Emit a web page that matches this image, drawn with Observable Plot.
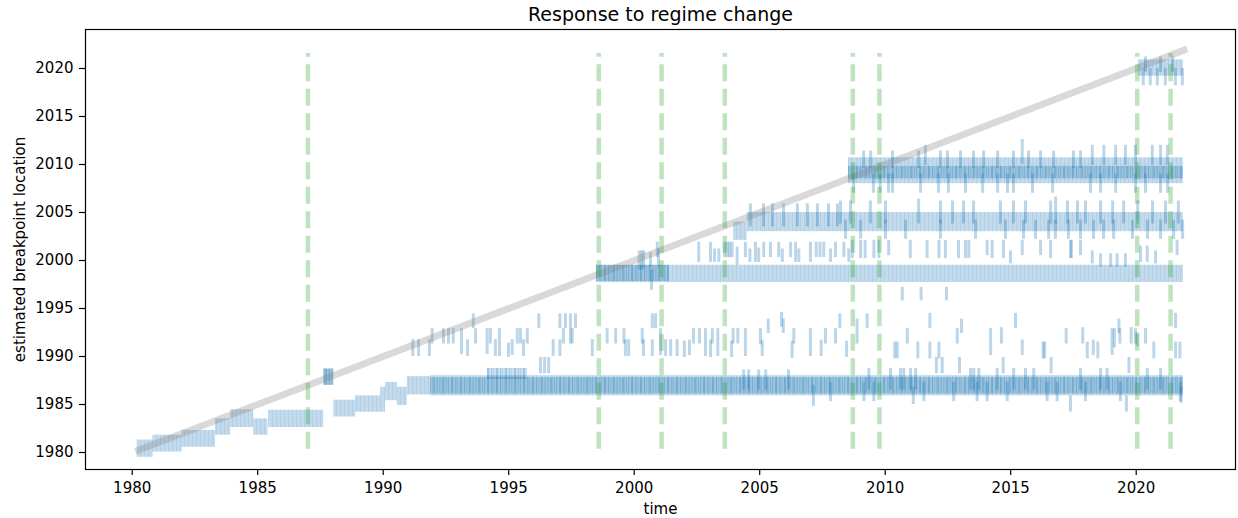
<!DOCTYPE html>
<html>
<head>
<meta charset="utf-8">
<script src="https://cdn.jsdelivr.net/npm/d3@7"></script>
<script src="https://cdn.jsdelivr.net/npm/@observablehq/plot@0.6"></script>
<style>
  html, body { margin: 0; padding: 0; background: #fff; }
</style>
</head>
<body>
<div id="chart"></div>
<script>
// ---------------- DATA ----------------
const chartTitle = "Response to regime change";
const xLabel = "time";
const yLabel = "estimated breakpoint location";
const xTicks = [1980, 1985, 1990, 1995, 2000, 2005, 2010, 2015, 2020];
const yTicks = [1980, 1985, 1990, 1995, 2000, 2005, 2010, 2015, 2020];

// true regime-change dates (green dashed lines)
const regimeChanges = [1987.0, 1998.59, 2001.09, 2003.61, 2008.71, 2009.77, 2020.04, 2021.37];
const regimeSpan = [1980.35, 2021.55];
// time span of the experiment (diagonal: estimate == time)
const timeRange = [1980.25, 2021.9];

// continuous runs of estimates: [timeStart, timeEnd, low, high]
const bandRuns = [
  [1980.2, 1980.83, 1979.5, 1981.3],
  [1980.83, 1981.99, 1980.05, 1981.8],
  [1981.99, 1983.32, 1980.55, 1982.3],
  [1983.32, 1983.92, 1981.8, 1983.5],
  [1983.92, 1984.84, 1982.6, 1984.45],
  [1984.84, 1985.41, 1981.8, 1983.5],
  [1985.44, 1987.63, 1982.6, 1984.4],
  [1987.63, 1988.03, 1987.0, 1988.7],
  [1988.03, 1988.9, 1983.7, 1985.45],
  [1988.9, 1989.9, 1984.2, 1985.9],
  [1989.9, 1990.09, 1984.2, 1986.8],
  [1990.09, 1990.56, 1985.4, 1987.3],
  [1990.56, 1990.96, 1984.9, 1986.8],
  [1990.96, 1991.88, 1986.0, 1987.9],
  [1991.88, 2021.88, 1985.9, 1988.0],
  [1998.5, 2021.88, 1997.7, 1999.5],
  [2003.96, 2004.5, 2002.1, 2004.0],
  [2004.5, 2021.88, 2003.0, 2005.0],
  [2008.54, 2021.88, 2008.0, 2010.7],
  [2020.09, 2021.88, 2019.2, 2020.9]
];

// heavily overlapping parts of the runs: [timeStart, timeEnd, low, high]
const coreRuns = [
  [1987.63, 1988.03, 1987.0, 1988.7],
  [1991.88, 2021.88, 1986.1, 1987.8],
  [1994.15, 1995.75, 1987.6, 1988.75],
  [1998.5, 2001.4, 1997.8, 1999.5],
  [2008.54, 2021.88, 2008.5, 2009.8]
];

// isolated estimates between 1988 and 1995: [time, low, high]
const lowZoneTicks = [
  [1991.18,1990.0,1991.75],[1991.41,1990.0,1991.75],[1991.84,1990.0,1991.75],[1991.95,1991.3,1992.9],
  [1992.40,1991.3,1992.9],[1992.60,1991.3,1992.9],[1992.79,1991.3,1992.9],[1993.12,1990.2,1992.9],
  [1993.36,1990.0,1991.75],[1993.59,1992.9,1994.45],[1993.68,1991.3,1992.9],[1994.14,1990.2,1992.9],
  [1994.27,1991.3,1992.9],[1994.47,1990.0,1991.75],[1994.63,1990.0,1992.9],[1994.99,1989.9,1991.4],
  [1995.14,1990.1,1991.75],[1995.34,1991.3,1992.9],[1995.47,1991.3,1992.9],[1995.59,1990.0,1991.75],
  [1995.74,1991.3,1992.9],[1996.20,1992.9,1994.45],[1996.27,1988.2,1989.9],[1996.43,1988.2,1989.9],
  [1996.59,1988.2,1989.9],[1996.77,1990.0,1991.75],[1997.04,1992.9,1994.45],[1997.04,1990.0,1991.75],
  [1997.18,1991.3,1992.9],[1997.26,1992.9,1994.45],[1997.46,1991.3,1994.45],[1997.53,1991.3,1992.9],
  [1997.66,1992.9,1994.45],[1998.33,1990.0,1991.75],[1998.92,1991.3,1992.9],[1999.26,1991.3,1992.9],
  [1999.59,1991.3,1992.9],[1999.65,1990.0,1991.75],[1999.78,1990.0,1991.75],[2000.32,1991.3,1992.9],
  [2000.37,1990.0,1991.75],[2000.72,1992.9,1994.45],[2000.85,1992.9,1994.45],[2000.72,1990.0,1991.75],
  [2001.05,1990.1,1992.9],[2001.25,1990.0,1991.75],[2001.45,1990.0,1991.75],[2001.71,1990.0,1991.75],
  [2002.00,1989.9,1991.6],[2002.20,1990.1,1991.7],[2002.36,1991.3,1992.9],[2002.60,1991.3,1992.9],
  [2002.84,1990.0,1992.9],[2003.04,1989.9,1991.7],[2003.11,1991.3,1992.9],[2003.33,1990.0,1992.9],
  [2003.88,1989.9,1991.6],[2003.94,1991.3,1992.9],[2004.13,1991.3,1992.9],[2004.43,1990.0,1992.9],
  [2005.03,1991.2,1992.9],[2005.10,1990.0,1991.7],[2005.34,1992.4,1993.9],[2005.87,1993.05,1994.6],
  [2005.94,1992.4,1993.9],[2006.29,1989.8,1991.6],[2006.36,1991.3,1992.9],[2007.02,1990.0,1992.9],
  [2007.45,1990.0,1991.7],[2007.62,1991.3,1992.9],[2008.02,1991.3,1992.9],[2008.19,1992.9,1994.45],
  [2008.46,1989.9,1991.6],[2008.88,1991.3,1993.9],[2009.28,1992.9,1994.45],[2010.38,1989.75,1991.5],
  [2010.48,1989.75,1991.5],[2010.88,1991.3,1992.9],[2011.30,1989.75,1991.5],[2011.78,1992.9,1994.5],
  [2011.78,1989.75,1991.5],[2012.04,1988.2,1989.9],[2012.14,1989.75,1991.5],[2012.27,1988.2,1989.9],
  [2012.87,1991.3,1992.9],[2012.96,1988.2,1989.9],[2013.04,1992.4,1993.9],[2014.20,1990.1,1992.9],
  [2014.63,1991.3,1993.0],[2014.70,1988.2,1989.9],[2015.19,1992.9,1994.5],[2015.46,1990.1,1991.7],
  [2016.29,1989.75,1991.5],[2016.35,1989.75,1991.5],[2016.61,1988.2,1989.9],[2017.21,1991.3,1992.9],
  [2017.87,1991.3,1993.0],[2018.05,1989.75,1991.5],[2018.29,1990.1,1991.7],[2018.47,1989.75,1991.5],
  [2019.04,1990.1,1992.9],[2019.13,1990.9,1992.9],[2019.31,1992.4,1993.9],[2019.35,1991.3,1992.9],
  [2019.71,1988.2,1989.9],[2019.80,1991.3,1993.0],[2019.97,1991.3,1992.9],[2020.04,1991.0,1992.5],
  [2020.37,1991.3,1992.9],[2020.70,1989.75,1991.5],[2021.57,1992.9,1994.5],[2021.57,1989.75,1991.5],
  [2021.74,1989.75,1991.5],
  [2011.12,1985.0,1986.8],[2017.38,1984.2,1985.9],[2019.61,1984.2,1985.9],[2021.79,1985.1,1986.8],
  [2000.69,1996.9,1999.0],[2010.68,1995.8,1997.2],[2011.43,1995.8,1997.2],[2012.44,1995.8,1997.2]
];

// isolated estimates between 1999.5 and 2002: [time, low, high]
const midZoneTicks = [
  [2000.2,1999.0,2001.0],[2000.3,1999.0,2001.0],[2000.38,1999.2,2001.0],[2000.65,1999.3,2000.8],
  [2000.92,2000.3,2001.9],[2000.97,1999.3,2001.2],[2002.57,1999.8,2001.9],[2003.04,1999.8,2001.9],
  [2003.2,1999.8,2001.2],[2003.37,1999.8,2001.2],[2003.6,2000.3,2001.9],[2003.7,2000.3,2001.9],
  [2003.8,2000.3,2001.9],[2003.9,2000.3,2001.9],[2004.1,1999.5,2001.4],[2004.43,2000.3,2001.9],
  [2004.61,1999.8,2001.2],[2004.83,1999.8,2001.9],[2004.96,1999.8,2001.3],[2005.16,2000.3,2001.9],
  [2005.43,2000.3,2001.9],[2005.76,2000.3,2001.9],[2005.9,1999.8,2001.2],[2006.23,2000.3,2001.9],
  [2006.43,1999.8,2001.9],[2006.56,1999.8,2001.2],[2007.02,1999.8,2001.9],[2007.25,2000.3,2001.9],
  [2007.4,2000.3,2001.9],[2007.55,2000.3,2001.9],[2007.82,1999.8,2001.2],[2008.02,2000.3,2001.9],
  [2008.35,2000.3,2001.9],[2008.55,1999.8,2001.2],[2008.69,2000.2,2002.1],[2009.02,2000.2,2002.1],
  [2009.2,2000.2,2002.1],[2009.55,2000.2,2002.1],[2009.75,2000.2,2002.1],[2010.14,2000.5,2002.1],
  [2011.0,2000.2,2002.1],[2011.67,2000.2,2002.1],[2012.14,2000.2,2002.1],[2012.4,2000.2,2002.1],
  [2012.92,2000.2,2002.1],[2013.2,2000.2,2002.1],[2013.33,2000.2,2002.1],[2014.06,2000.5,2002.1],
  [2014.26,2000.2,2002.1],[2014.71,2000.2,2002.1],[2014.99,1999.65,2001.0],[2015.46,2000.5,2002.1],
  [2016.19,2000.5,2002.1],[2016.59,2000.2,2002.1],[2017.38,2000.2,2002.1],[2017.42,2000.2,2002.1],
  [2017.78,2000.5,2002.1],[2018.25,1999.65,2001.0],[2018.58,1999.3,2000.7],[2018.98,1999.3,2000.7],
  [2019.24,1999.3,2000.7],[2019.57,1999.3,2000.7],[2020.17,1999.8,2001.5],[2020.44,1999.8,2001.5],
  [2020.77,1999.65,2001.0],[2021.63,2000.5,2002.1]
];

// spread of the ~2004 estimates: [time, low, high]
const bandCTicks = [
  [2004.63,2003.5,2005.9],[2005.15,2003.5,2005.9],[2005.51,2003.5,2005.9],[2005.95,2003.5,2005.9],
  [2006.5,2003.5,2005.9],[2006.9,2003.5,2005.9],[2007.3,2003.5,2005.9],[2007.74,2003.5,2005.9],
  [2008.1,2003.5,2005.9],[2008.22,2003.8,2006.2],[2008.62,2003.8,2006.2],[2009.41,2003.8,2006.2],
  [2010.01,2003.8,2006.2],[2011.33,2003.8,2006.4],[2012.2,2003.8,2006.2],[2012.68,2003.8,2006.2],
  [2013.12,2003.8,2006.2],[2013.52,2003.8,2006.2],[2014.59,2003.8,2006.2],[2015.11,2003.8,2006.2],
  [2015.59,2003.8,2006.2],[2016.59,2003.8,2006.2],[2016.79,2003.8,2006.6],[2017.26,2003.8,2006.2],
  [2017.66,2003.8,2006.2],[2017.98,2003.8,2006.2],[2018.58,2003.8,2006.2],[2019.06,2003.8,2006.2],
  [2019.5,2003.8,2006.2],[2020.06,2003.8,2006.2],[2020.65,2003.8,2006.2],[2021.17,2003.8,2006.2],
  [2021.68,2003.8,2006.2],
  [2008.42,2002.2,2004.2],[2009.02,2002.2,2004.2],[2010.01,2002.2,2004.2],[2010.81,2002.2,2004.2],
  [2012.2,2002.2,2004.2],[2013.6,2002.2,2004.2],[2014.79,2002.2,2004.2],[2015.51,2002.2,2004.2],
  [2015.99,2002.2,2004.2],[2016.51,2002.2,2004.2],[2016.78,2002.2,2004.2],[2017.3,2002.2,2004.2],
  [2017.78,2002.2,2004.2],[2018.3,2002.2,2004.2],[2018.7,2002.2,2004.2],[2019.1,2002.2,2004.2],
  [2019.85,2002.2,2004.2],[2020.45,2002.2,2004.2],[2020.97,2002.2,2004.2],[2021.49,2002.2,2004.2],
  [2021.85,2002.2,2004.2]
];

// spread of the ~2009 estimates: [time, low, high]
const bandDTicks = [
  [2008.74,2007.0,2009.0],[2009.53,2007.0,2009.0],[2009.8,2007.0,2008.9],[2010.13,2007.0,2009.0],
  [2010.29,2007.0,2009.0],[2011.41,2007.0,2009.0],[2012.12,2007.0,2009.0],[2012.52,2007.0,2009.0],
  [2013.2,2007.0,2009.0],[2013.88,2007.0,2009.0],[2014.48,2007.0,2009.0],[2014.87,2007.0,2009.0],
  [2015.11,2007.0,2009.0],[2015.87,2007.0,2009.0],[2016.67,2007.0,2009.0],[2018.18,2007.0,2009.0],
  [2018.58,2007.0,2009.0],[2019.18,2007.0,2009.0],[2019.97,2007.0,2009.0],[2020.37,2007.0,2009.0],
  [2020.97,2007.0,2009.0],[2021.25,2007.0,2009.0],
  [2011.6,2009.9,2012.0],[2015.46,2010.0,2012.6],[2018.25,2009.9,2012.0],[2018.71,2009.9,2012.0],
  [2019.18,2009.9,2012.0],[2019.57,2009.9,2012.0],[2019.97,2009.9,2012.0],[2020.64,2009.9,2012.0],
  [2020.97,2009.9,2012.0],[2021.24,2009.9,2012.0],
  [2009.14,2009.6,2011.4],[2009.42,2009.6,2011.4],[2010.29,2009.6,2011.4],[2011.33,2009.6,2011.4],
  [2012.2,2009.6,2011.4],[2012.48,2009.6,2011.4],[2013.0,2009.6,2011.4],[2013.52,2009.6,2011.4],
  [2013.92,2009.6,2011.4],[2014.48,2009.6,2011.4],[2015.11,2009.6,2011.4],[2015.71,2009.6,2011.4],
  [2016.19,2009.6,2011.4],[2016.71,2009.6,2011.4],[2017.5,2009.6,2011.4],[2017.78,2009.6,2011.4]
];

// spread of the ~1987 estimates: [time, low, high]
const bandATicks = [
  [2004.36,1986.5,1988.6],[2004.56,1986.5,1988.6],[2004.96,1986.5,1988.6],[2005.24,1986.5,1988.6],
  [2006.15,1986.5,1988.6],[2009.35,1986.5,1988.75],[2010.21,1986.5,1988.75],[2010.61,1986.5,1988.75],
  [2010.74,1986.5,1988.75],[2011.01,1986.5,1988.75],[2011.21,1986.5,1988.75],[2013.4,1986.5,1988.75],
  [2013.53,1986.5,1988.75],[2013.73,1986.5,1988.75],[2014.46,1986.5,1988.75],[2015.12,1986.5,1988.75],
  [2015.59,1986.5,1988.75],[2015.92,1986.5,1988.75],[2017.78,1986.5,1988.75],[2018.58,1986.5,1988.75],
  [2018.84,1986.5,1988.75],[2020.44,1986.5,1988.75],[2020.97,1986.5,1988.75],
  [2007.14,1984.8,1987.0],[2007.82,1985.3,1987.3],[2009.15,1985.3,1987.3],[2009.55,1985.3,1987.3],
  [2011.54,1985.3,1987.3],[2012.73,1985.3,1987.3],[2013.66,1985.3,1987.3],[2014.06,1985.3,1987.3],
  [2014.86,1985.3,1987.3],[2016.45,1985.3,1987.3],[2016.85,1985.3,1987.3],[2017.98,1985.3,1987.3],
  [2019.37,1985.3,1987.3],[2021.76,1985.3,1987.3]
];

// spread of the ~2020 estimates: [time, low, high]
const bandETicks = [
  [2020.28,2018.2,2020.0],[2020.56,2018.2,2020.0],[2020.84,2018.2,2020.0],[2021.16,2018.2,2020.0],
  [2021.56,2018.2,2020.0],[2021.84,2018.2,2020.0],
  [2020.37,2019.6,2021.2],[2020.97,2019.6,2021.2],[2021.45,2019.6,2021.2]
];

const allTicks = [...lowZoneTicks, ...midZoneTicks, ...bandCTicks, ...bandDTicks, ...bandATicks, ...bandETicks];

// ---------------- CHART ----------------
const C0 = "#1f77b4";
const font = "'DejaVu Sans', 'Liberation Sans', sans-serif";

const svg = Plot.plot({
  width: 1238,
  height: 518,
  marginTop: 29,
  marginRight: 3,
  marginBottom: 49,
  marginLeft: 85,
  style: {fontFamily: font, fontSize: "15px", background: "white", color: "black", overflow: "visible"},
  x: {type: "linear", domain: [1978.139, 2023.956]},
  y: {type: "linear", domain: [1978.23, 2024.06]},
  marks: [
    Plot.rect(bandRuns, {x1: d => d[0], x2: d => d[1], y1: d => d[2], y2: d => d[3], fill: "url(#bandLight)"}),
    Plot.rect(coreRuns, {x1: d => d[0], x2: d => d[1], y1: d => d[2], y2: d => d[3], fill: "url(#bandDense)"}),
    Plot.ruleX(allTicks, {x: d => d[0], y1: d => d[1], y2: d => d[2], stroke: C0, strokeOpacity: 0.3, strokeWidth: 3}),
    Plot.line(timeRange, {x: d => d, y: d => d, stroke: "#808080", strokeOpacity: 0.3, strokeWidth: 6.8, strokeLinecap: "square"}),
    Plot.ruleX(regimeChanges, {x: d => d, y1: regimeSpan[0], y2: regimeSpan[1], stroke: "#2ca02c", strokeOpacity: 0.3, strokeWidth: 4.5, strokeDasharray: "17,7.5"}),
    Plot.frame({stroke: "black", strokeWidth: 1.2}),
    Plot.axisX({ticks: xTicks, tickFormat: d => String(d), tickSize: 6, tickPadding: 7, strokeWidth: 1.2, fontSize: 15, label: null}),
    Plot.axisY({ticks: yTicks, tickFormat: d => String(d), tickSize: 6, tickPadding: 6, strokeWidth: 1.2, fontSize: 15, label: null}),
    Plot.text([chartTitle], {text: d => d, frameAnchor: "top", lineAnchor: "middle", textAnchor: "middle", dy: -15, fontSize: 19, fill: "black"}),
    Plot.text([xLabel], {text: d => d, frameAnchor: "bottom", lineAnchor: "middle", textAnchor: "middle", dy: 40, fontSize: 15, fill: "black"}),
    Plot.text([yLabel], {text: d => d, frameAnchor: "left", lineAnchor: "middle", textAnchor: "middle", dx: -65, rotate: -90, fontSize: 15, fill: "black"})
  ]
});

// stripe textures that mimic densely packed translucent interval lines
const defs = d3.select(svg).insert("defs", ":first-child");
const pl = defs.append("pattern").attr("id", "bandLight").attr("patternUnits", "userSpaceOnUse").attr("width", 4).attr("height", 8);
pl.append("rect").attr("width", 4).attr("height", 8).attr("fill", C0).attr("fill-opacity", 0.27);
pl.append("rect").attr("width", 1).attr("height", 8).attr("fill", C0).attr("fill-opacity", 0.1);
const pd = defs.append("pattern").attr("id", "bandDense").attr("patternUnits", "userSpaceOnUse").attr("width", 9).attr("height", 8);
pd.append("rect").attr("width", 9).attr("height", 8).attr("fill", C0).attr("fill-opacity", 0.24);
pd.append("rect").attr("x", 1).attr("width", 2).attr("height", 8).attr("fill", C0).attr("fill-opacity", 0.25);
pd.append("rect").attr("x", 5).attr("width", 1).attr("height", 8).attr("fill", C0).attr("fill-opacity", 0.2);
pd.append("rect").attr("x", 7).attr("width", 1).attr("height", 8).attr("fill", C0).attr("fill-opacity", 0.12);

document.getElementById("chart").appendChild(svg);
</script>
</body>
</html>
